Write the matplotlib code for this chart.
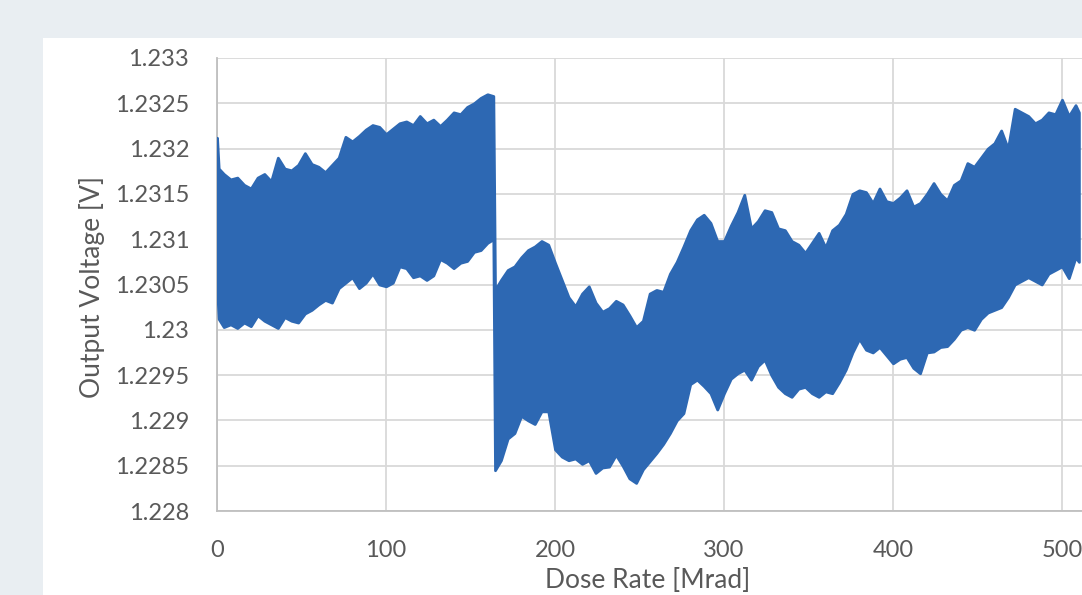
import matplotlib.pyplot as plt
from matplotlib.patches import Rectangle

# 数据：输出电压的上下包络
x_before = [0, 1, 4, 8, 12, 16, 20, 24, 28, 32, 36, 40, 44, 48, 52, 56, 60, 64, 68, 72,
            76, 80, 84, 88, 92, 96, 100, 104, 108, 112, 116, 120, 124, 128, 132, 136,
            140, 144, 148, 152, 156, 160, 163.5]
upper_before = [1.23212, 1.23178, 1.23172, 1.23166, 1.23168, 1.23160, 1.23156, 1.23168,
                1.23172, 1.23164, 1.23190, 1.23178, 1.23176, 1.23182, 1.23195, 1.23183,
                1.23180, 1.23174, 1.23182, 1.23190, 1.23213, 1.23208, 1.23214, 1.23221,
                1.23226, 1.23224, 1.23216, 1.23222, 1.23228, 1.23230, 1.23226, 1.23236,
                1.23228, 1.23232, 1.23225, 1.23232, 1.23240, 1.23238, 1.23246, 1.23250,
                1.23256, 1.23260, 1.23258]
lower_before = [1.23047, 1.23012, 1.23003, 1.23006, 1.23002, 1.23008, 1.23004, 1.23016,
                1.23010, 1.23006, 1.23002, 1.23014, 1.23010, 1.23008, 1.23018, 1.23022,
                1.23028, 1.23033, 1.23030, 1.23046, 1.23052, 1.23058, 1.23046, 1.23052,
                1.23062, 1.23050, 1.23048, 1.23052, 1.23070, 1.23068, 1.23058, 1.23060,
                1.23055, 1.23060, 1.23078, 1.23074, 1.23068, 1.23074, 1.23076, 1.23086,
                1.23088, 1.23096, 1.23100]

x_after = [164.5, 168, 172, 176, 180, 184, 188, 192, 196, 200, 204, 208, 212, 216, 220,
           224, 228, 232, 236, 240, 244, 248, 252, 256, 260, 264, 268, 272, 276, 280,
           284, 288, 292, 296, 300, 304, 308, 312, 316, 320, 324, 328, 332, 336, 340,
           344, 348, 352, 356, 360, 364, 368, 372, 376, 380, 384, 388, 392, 396, 400,
           404, 408, 412, 416, 420, 424, 428, 432, 436, 440, 444, 448, 452, 456, 460,
           464, 468, 472, 476, 480, 484, 488, 492, 496, 500, 504, 508, 510]
upper_after = [1.23044, 1.23055, 1.23066, 1.23070, 1.23080, 1.23088, 1.23092, 1.23098,
               1.23094, 1.23074, 1.23055, 1.23036, 1.23026, 1.23040, 1.23048, 1.23030,
               1.23020, 1.23024, 1.23032, 1.23028, 1.23016, 1.23003, 1.23010, 1.23040,
               1.23044, 1.23042, 1.23062, 1.23075, 1.23092, 1.23110, 1.23122, 1.23127,
               1.23118, 1.23098, 1.23098, 1.23115, 1.23130, 1.23149, 1.23112, 1.23120,
               1.23132, 1.23130, 1.23112, 1.23110, 1.23098, 1.23094, 1.23085, 1.23096,
               1.23107, 1.23091, 1.23110, 1.23116, 1.23128, 1.23150, 1.23154, 1.23152,
               1.23140, 1.23156, 1.23142, 1.23140, 1.23146, 1.23154, 1.23136, 1.23140,
               1.23150, 1.23162, 1.23150, 1.23143, 1.23160, 1.23165, 1.23184, 1.23180,
               1.23190, 1.23200, 1.23206, 1.23220, 1.23200, 1.23244, 1.23240, 1.23236,
               1.23228, 1.23232, 1.23240, 1.23238, 1.23254, 1.23236, 1.23248, 1.23240]
lower_after = [1.22845, 1.22856, 1.22880, 1.22886, 1.22905, 1.22900, 1.22896, 1.22910,
               1.22910, 1.22868, 1.22860, 1.22856, 1.22858, 1.22852, 1.22856, 1.22842,
               1.22848, 1.22849, 1.22862, 1.22850, 1.22836, 1.22831, 1.22846, 1.22855,
               1.22864, 1.22874, 1.22886, 1.22900, 1.22908, 1.22940, 1.22945, 1.22938,
               1.22930, 1.22912, 1.22930, 1.22946, 1.22952, 1.22956, 1.22945, 1.22960,
               1.22967, 1.22950, 1.22937, 1.22930, 1.22926, 1.22935, 1.22937, 1.22930,
               1.22926, 1.22932, 1.22930, 1.22942, 1.22956, 1.22975, 1.22990, 1.22978,
               1.22975, 1.22981, 1.22972, 1.22963, 1.22968, 1.22970, 1.22958, 1.22952,
               1.22975, 1.22976, 1.22981, 1.22982, 1.22990, 1.23000, 1.23003, 1.23000,
               1.23012, 1.23019, 1.23022, 1.23025, 1.23036, 1.23050, 1.23054, 1.23058,
               1.23054, 1.23050, 1.23062, 1.23066, 1.23070, 1.23057, 1.23080, 1.23075]

x_ticks = [0, 100, 200, 300, 400, 500]
y_ticks = [1.228, 1.2285, 1.229, 1.2295, 1.23, 1.2305, 1.231, 1.2315, 1.232, 1.2325, 1.233]
y_ticklabels = ["1.228", "1.2285", "1.229", "1.2295", "1.23", "1.2305", "1.231",
                "1.2315", "1.232", "1.2325", "1.233"]

plt.rcParams["font.family"] = ["Lato", "DejaVu Sans"]
blue = "#2d68b3"
grey_text = "#595959"

fig = plt.figure(figsize=(10.82, 5.95), dpi=100)
fig.patch.set_facecolor("#e9eef2")
# 白色面板
fig.add_artist(Rectangle((43 / 1082, -0.1), 1.2, 1.1 - 38 / 595,
                         transform=fig.transFigure, facecolor="white",
                         edgecolor="none", zorder=0))

ax = fig.add_axes([217 / 1082, 84 / 595, 878.8 / 1082, 453 / 595])
ax.set_facecolor("white")

x = x_before + x_after
upper = upper_before + upper_after
lower = lower_before + lower_after
ax.fill_between(x, lower, upper, color=blue, edgecolor=blue, linewidth=2,
                joinstyle="round", zorder=3)

ax.set_xlim(0, 520)
ax.set_ylim(1.228, 1.233)
ax.set_xticks(x_ticks)
ax.set_yticks(y_ticks)
ax.set_yticklabels(y_ticklabels)
ax.grid(True, color="#d9d9d9", linewidth=1.3, zorder=0)
ax.set_axisbelow(True)
for s in ["top", "right"]:
    ax.spines[s].set_visible(False)
for s in ["left", "bottom"]:
    ax.spines[s].set_color("#bfbfbf")
    ax.spines[s].set_linewidth(1.3)
ax.tick_params(axis="y", length=0, pad=20, labelsize=17, labelcolor=grey_text)
ax.tick_params(axis="x", length=0, pad=21, labelsize=17, labelcolor=grey_text)

fig.text(92 / 1082, 1 - 287 / 595, "Output Voltage [V]", rotation=90,
         ha="center", va="center", fontsize=19, color=grey_text)
fig.text(648 / 1082, 2 / 595, "Dose Rate [Mrad]",
         ha="center", va="bottom", fontsize=19, color=grey_text)

plt.savefig("out.png", dpi=100, facecolor=fig.get_facecolor())
